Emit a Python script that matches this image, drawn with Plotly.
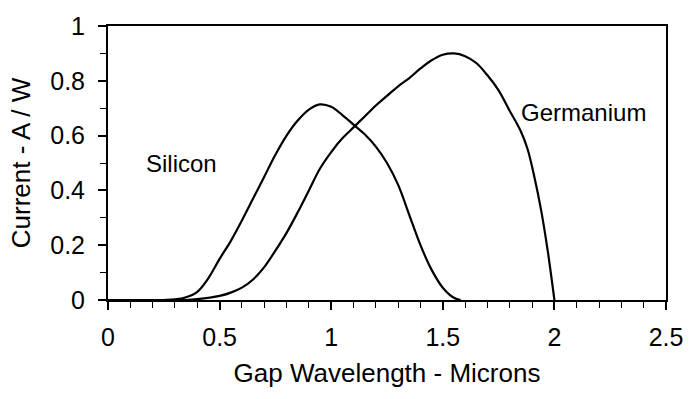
import plotly.graph_objects as go

# Silicon responsivity (A/W) vs wavelength (microns)
si_x = [0, 0.25, 0.30, 0.35, 0.40, 0.45, 0.50, 0.55, 0.60, 0.65, 0.70, 0.75, 0.80, 0.85, 0.90, 0.95,
        1.00, 1.05, 1.10, 1.15, 1.20, 1.25, 1.30, 1.35, 1.40, 1.45, 1.50, 1.55, 1.58]
si_y = [0, 0, 0.002, 0.01, 0.03, 0.08, 0.15, 0.215, 0.29, 0.37, 0.45, 0.53, 0.60, 0.655, 0.695, 0.714,
        0.705, 0.675, 0.64, 0.605, 0.56, 0.50, 0.42, 0.31, 0.20, 0.11, 0.045, 0.008, 0]

# Germanium responsivity (A/W) vs wavelength (microns)
ge_x = [0, 0.35, 0.40, 0.50, 0.55, 0.60, 0.65, 0.70, 0.75, 0.80, 0.85, 0.90, 0.95, 1.00, 1.05, 1.10,
        1.15, 1.20, 1.25, 1.30, 1.35, 1.40, 1.45, 1.50, 1.55, 1.60, 1.65, 1.70, 1.75, 1.80, 1.85,
        1.88, 1.91, 1.94, 1.97, 2.00]
ge_y = [0, 0, 0.003, 0.015, 0.027, 0.045, 0.075, 0.12, 0.18, 0.245, 0.32, 0.40, 0.48, 0.54, 0.59, 0.63,
        0.67, 0.71, 0.745, 0.78, 0.81, 0.845, 0.875, 0.895, 0.90, 0.89, 0.865, 0.82, 0.765, 0.69, 0.615,
        0.55, 0.45, 0.33, 0.18, 0]

labels = ["Silicon", "Germanium"]
label_x = [0.33, 2.13]
label_y = [0.50, 0.686]

x_title = "Gap Wavelength - Microns"
y_title = "Current - A / W"

FONT = "Liberation Sans, Arial, sans-serif"
TICK_FS = 25
TITLE_FS = 26
ANN_FS = 24

fig = go.Figure()
for xs, ys, name in [(si_x, si_y, labels[0]), (ge_x, ge_y, labels[1])]:
    fig.add_trace(go.Scatter(
        x=xs, y=ys, mode="lines", name=name,
        line=dict(color="black", width=2.2, shape="spline", smoothing=1.0),
        showlegend=False,
    ))

for t, x, y in zip(labels, label_x, label_y):
    fig.add_annotation(x=x, y=y, text=t, showarrow=False,
                       font=dict(family=FONT, size=ANN_FS, color="black"),
                       xanchor="center", yanchor="middle")

axis_common = dict(
    showline=True, linecolor="black", linewidth=2, mirror=True,
    ticks="outside", ticklen=8, tickwidth=1.5, tickcolor="black",
    showgrid=False, zeroline=False,
    tickfont=dict(family=FONT, size=TICK_FS, color="black"),
)

fig.update_xaxes(range=[0, 2.5], dtick=0.5, tick0=0, ticklabelstandoff=6,
                 minor=dict(dtick=0.1, ticks="outside", ticklen=6, tickwidth=1, tickcolor="black", showgrid=False),
                 title=dict(text=x_title, font=dict(family=FONT, size=TITLE_FS, color="black"), standoff=14),
                 **axis_common)
fig.update_yaxes(range=[0, 1], dtick=0.2, tick0=0, ticklabelstandoff=8,
                 minor=dict(dtick=0.1, ticks="outside", ticklen=6, tickwidth=1, tickcolor="black", showgrid=False),
                 title=dict(text=y_title, font=dict(family=FONT, size=TITLE_FS, color="black"), standoff=12),
                 tickformat="~g",
                 **axis_common)

fig.update_layout(
    width=695, height=399,
    margin=dict(l=108, r=22, t=20, b=99),
    paper_bgcolor="white", plot_bgcolor="white",
    font=dict(family=FONT, size=TICK_FS, color="black"),
)

fig.write_html("out.html")
